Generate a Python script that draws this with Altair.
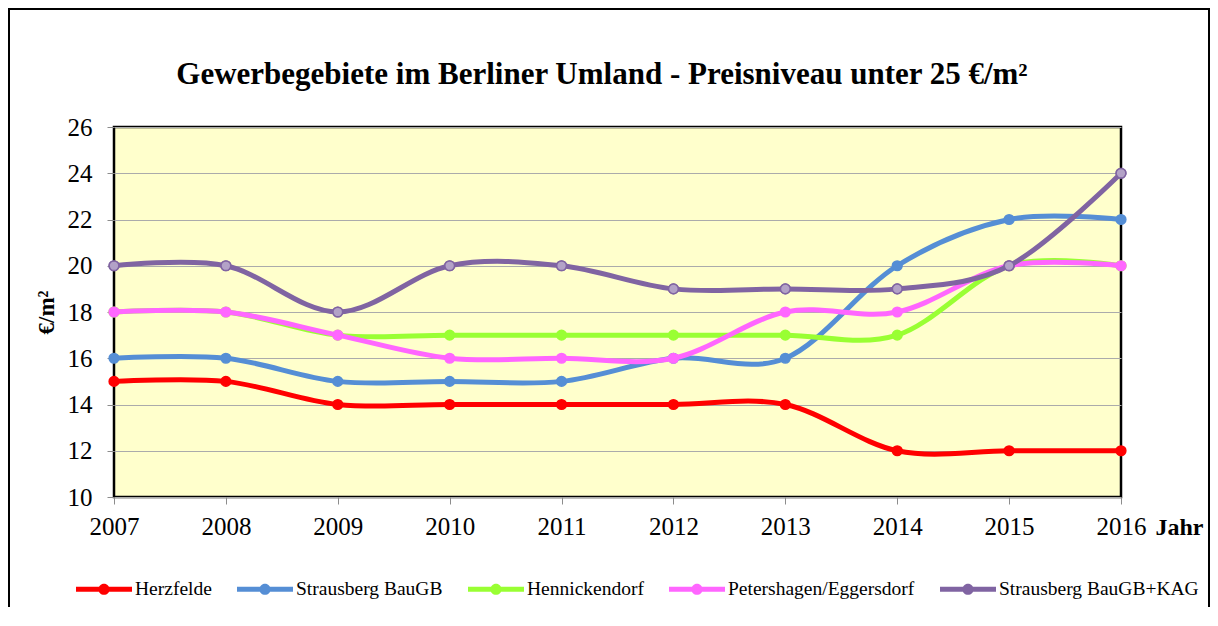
import altair as alt
import pandas as pd

# ---- data ----
years = [2007, 2008, 2009, 2010, 2011, 2012, 2013, 2014, 2015, 2016]
series_names = ["Herzfelde", "Strausberg BauGB", "Hennickendorf",
                "Petershagen/Eggersdorf", "Strausberg BauGB+KAG"]
herzfelde = [15, 15, 14, 14, 14, 14, 14, 12, 12, 12]
strausberg = [16, 16, 15, 15, 15, 16, 16, 20, 22, 22]
hennickendorf = [18, 18, 17, 17, 17, 17, 17, 17, 20, 20]
petershagen = [18, 18, 17, 16, 16, 16, 18, 18, 20, 20]
strausberg_kag = [20, 20, 18, 20, 20, 19, 19, 19, 20, 24]
y_ticks = [10, 12, 14, 16, 18, 20, 22, 24, 26]
chart_title = "Gewerbegebiete im Berliner Umland - Preisniveau unter 25 €/m²"

colors = ["#FF0000", "#558ED5", "#99FF33", "#FF66FF", "#8064A2"]
marker_fills = ["#FF0000", "#558ED5", "#99FF33", "#FF66FF", "#B3A2C7"]

all_values = [herzfelde, strausberg, hennickendorf, petershagen, strausberg_kag]
rows = []
for name, vals in zip(series_names, all_values):
    for yr, v in zip(years, vals):
        rows.append({"Jahr": yr, "Wert": v, "Reihe": name})
df = pd.DataFrame(rows)

serif = "Liberation Serif"
W, H = 1007, 370

x_enc = alt.X(
    "Jahr:Q",
    scale=alt.Scale(domain=[2007, 2016], nice=False, zero=False),
    axis=alt.Axis(
        values=years, format="d", grid=False, domain=False,
        tickSize=7, tickColor="#8C8C8C", tickWidth=1,
        labelFont=serif, labelFontSize=25, labelColor="black",
        labelPadding=10, labelFlush=False, labelOverlap=False, labelBound=False,
        title="Jahr", titleFont=serif, titleFontSize=24, titleFontWeight="bold",
        titleColor="black", titleX=1041, titleY=30, titleAlign="left",
        titleBaseline="middle", titleAngle=0, titleLimit=100,
    ),
)
y_enc = alt.Y(
    "Wert:Q",
    scale=alt.Scale(domain=[10, 26], nice=False, zero=False),
    axis=alt.Axis(
        values=y_ticks, grid=True, gridColor="#ABABAB", gridWidth=1,
        domain=False, tickSize=7, tickColor="#8C8C8C", tickWidth=1,
        labelFont=serif, labelFontSize=25, labelColor="black", labelPadding=15,
        labelOverlap=False, labelBound=False,
        title="€/m²", titleFont=serif, titleFontSize=23, titleFontWeight="bold",
        titleColor="black", titleAngle=-90, titleX=-68, titleY=185,
        titleAlign="center", titleBaseline="middle",
    ),
)

symbol_path = ("M-1,-0.09H1V0.09H-1Z "
               "M0.2,0A0.2,0.2 0 1,1 -0.2,0A0.2,0.2 0 1,1 0.2,0Z")

legend_def = alt.Legend(
    title=None, orient="none", legendX=-38, legendY=434,
    direction="horizontal", symbolType=symbol_path, symbolSize=3136,
    symbolStrokeWidth=0, labelFont=serif, labelFontSize=19.5,
    labelColor="black", labelOffset=3, columnPadding=25, padding=0,
    labelLimit=400, symbolOpacity=1,
)
color_scale = alt.Scale(domain=series_names, range=colors)
color_enc = alt.Color("Reihe:N", scale=color_scale, legend=legend_def)

one = pd.DataFrame({"t": [chart_title]})
frame = alt.Chart(one).mark_rect(
    filled=False, stroke="black", strokeWidth=2
).encode(x=alt.value(-105), x2=alt.value(1095), y=alt.value(-118), y2=alt.value(700))

title_mark = alt.Chart(one).mark_text(
    font=serif, fontSize=31, fontWeight="bold", color="black",
    align="center", baseline="alphabetic"
).encode(text="t:N", x=alt.value(488), y=alt.value(-43))

layers = [frame, title_mark]
for i, name in enumerate(series_names):
    base = alt.Chart(df).transform_filter(alt.datum.Reihe == name)
    line = base.mark_line(interpolate="cardinal", strokeWidth=5).encode(
        x=x_enc, y=y_enc, color=color_enc
    )
    pts = base.mark_point(
        filled=True, shape="circle", size=95, opacity=1,
        stroke=colors[i], strokeWidth=1.5
    ).encode(x=x_enc, y=y_enc, color=color_enc)
    layers += [line, pts]
    if marker_fills[i] != colors[i]:
        over = base.mark_point(
            filled=True, shape="circle", size=95, opacity=1,
            fill=marker_fills[i], stroke=colors[i], strokeWidth=1.5
        ).encode(x=x_enc, y=y_enc)
        layers.append(over)

chart = alt.layer(*layers).properties(
    width=W, height=H,
    padding={"left": 106, "top": 119, "right": 89, "bottom": 110},
    autosize=alt.AutoSizeParams(type="none"),
    background="white",
).configure_view(fill="#FFFFCC", stroke="black", strokeWidth=2.5)

chart.save("out.html", embed_options={"renderer": "svg", "actions": False})
